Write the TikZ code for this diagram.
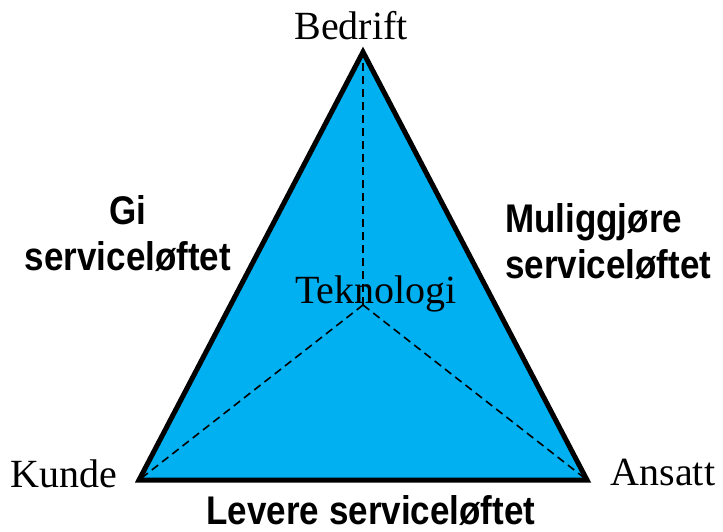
\documentclass[tikz,border=0pt]{standalone}
\usepackage{fontspec}
\setmainfont{Liberation Serif}
\setsansfont{Liberation Sans}
\usetikzlibrary{positioning}
\definecolor{triblue}{RGB}{0,176,240}
\newcommand{\narrowlines}[2]{\scalebox{0.875}[1]{\begin{tabular}[b]{@{}#1@{}}#2\end{tabular}}}

\begin{document}
\begin{tikzpicture}[x=1pt, y=-1pt, corner/.style = {font=\fontsize{40}{40}\selectfont, anchor=base, inner sep=0}, role/.style = {font=\sffamily\bfseries\fontsize{40}{46}\selectfont, inner sep=0}, spoke/.style = {line width=1.6pt, dash pattern=on 8pt off 5pt}]
\useasboundingbox (0,0) rectangle (723,532);

\coordinate (top) at (363,52);
\coordinate (left) at (139,480);
\coordinate (right) at (587,480);
\coordinate (mid) at (363,305);

\fill[triblue] (top) -- (left) -- (right) -- cycle;
\draw[spoke] (mid) -- (top);
\draw[spoke] (mid) -- (left);
\draw[spoke] (mid) -- (right);
\draw[line width=5pt, line join=miter] (top) -- (left) -- (right) -- cycle;

\node[corner](bedrift) at (351,40){Bedrift};
\node[corner](kunde) at (64,487){Kunde};
\node[corner](ansatt) at (663,485){Ansatt};
\node[corner](teknologi) at (376,303){Teknologi};

% anchor base = baseline of the last line
\node[role, anchor=base](gi) at (128,270){\narrowlines{c}{Gi\\serviceløftet}};
\node[role, anchor=base west](muliggjore) at (505,278){\narrowlines{l}{Muliggjøre\\serviceløftet}};
\node[role, anchor=base](levere) at (371,524){\scalebox{0.875}[1]{Levere serviceløftet}};

\end{tikzpicture}
\end{document}
